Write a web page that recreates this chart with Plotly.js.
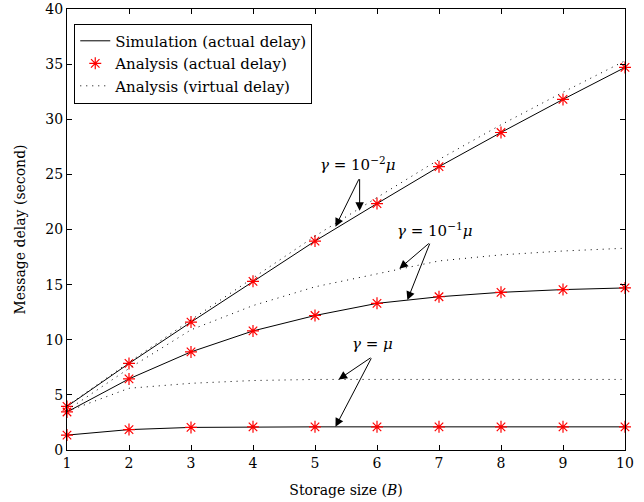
<!DOCTYPE html>
<html>
<head>
<meta charset="utf-8">
<script src="https://cdn.plot.ly/plotly-3.0.1.min.js"></script>
<style>html,body{margin:0;padding:0;background:#fff;}#chart{width:644px;height:502px;}</style>
</head>
<body>
<div id="chart"></div>
<script>
// Storage size B
const storage = [1, 2, 3, 4, 5, 6, 7, 8, 9, 10];

// gamma = 1e-2 mu
const simG2 = [3.95, 7.85, 11.6, 15.3, 18.95, 22.35, 25.7, 28.8, 31.8, 34.7];
const anaActG2 = [3.95, 7.85, 11.6, 15.3, 18.95, 22.35, 25.7, 28.8, 31.8, 34.7];
const anaVirG2 = [4.0, 7.95, 11.8, 15.6, 19.4, 22.9, 26.35, 29.5, 32.45, 35.3];

// gamma = 1e-1 mu
const simG1 = [3.45, 6.45, 8.9, 10.8, 12.2, 13.3, 13.9, 14.3, 14.55, 14.7];
const anaActG1 = [3.45, 6.45, 8.9, 10.8, 12.2, 13.3, 13.9, 14.3, 14.55, 14.7];
const anaVirG1 = [3.6, 7.4, 10.9, 13.1, 14.8, 16.0, 17.15, 17.7, 18.05, 18.3];

// gamma = mu
const simG0 = [1.35, 1.85, 2.05, 2.1, 2.1, 2.1, 2.1, 2.1, 2.1, 2.1];
const anaActG0 = [1.35, 1.85, 2.05, 2.1, 2.1, 2.1, 2.1, 2.1, 2.1, 2.1];
const anaVirG0 = [3.5, 5.6, 6.05, 6.3, 6.4, 6.4, 6.4, 6.4, 6.4, 6.4];

const legendNames = ['Simulation (actual delay)', 'Analysis (actual delay)', 'Analysis (virtual delay)'];

// annotation labels and arrows (data coordinates)
const labelText = ['<i>γ</i> = 10<sup>−2</sup><i>μ</i>', '<i>γ</i> = 10<sup>−1</sup><i>μ</i>', '<i>γ</i> = <i>μ</i>'];
const labelX = [5.68, 6.93, 5.92];
const labelY = [25.9, 19.95, 9.6];
const tailX = [5.72, 6.86, 5.92];
const tailY = [24.7, 18.85, 8.45];
const headAX = [5.33, 6.36, 5.38];
const headAY = [20.25, 16.45, 6.4];
const headBX = [5.72, 6.49, 5.33];
const headBY = [21.7, 13.6, 2.1];

const FONT = '"DejaVu Serif", "Liberation Serif", serif';

const sims = [simG2, simG1, simG0];
const acts = [anaActG2, anaActG1, anaActG0];
const virs = [anaVirG2, anaVirG1, anaVirG0];

const traces = [];
sims.forEach((s, i) => traces.push({
  x: storage, y: s, mode: 'lines', type: 'scatter',
  line: {color: '#000', width: 1},
  name: legendNames[0], legendgroup: 'sim', showlegend: i === 0
}));
acts.forEach((s, i) => traces.push({
  x: storage, y: s, mode: 'markers', type: 'scatter',
  marker: {symbol: 'asterisk-open', size: 10, color: '#ff0000', line: {color: '#ff0000', width: 1.2}},
  name: legendNames[1], legendgroup: 'act', showlegend: i === 0, cliponaxis: false
}));
virs.forEach((s, i) => traces.push({
  x: storage, y: s, mode: 'lines', type: 'scatter',
  line: {color: '#000', width: 1, dash: '1px,5px'},
  name: legendNames[2], legendgroup: 'vir', showlegend: i === 0
}));

const annotations = [];
for (let i = 0; i < labelText.length; i++) {
  annotations.push({x: labelX[i], y: labelY[i], xref: 'x', yref: 'y', text: labelText[i],
    showarrow: false, font: {family: FONT, size: 15, color: '#000'}});
  [[headAX[i], headAY[i]], [headBX[i], headBY[i]]].forEach(h => {
    annotations.push({x: h[0], y: h[1], xref: 'x', yref: 'y', ax: tailX[i], ay: tailY[i],
      axref: 'x', ayref: 'y', text: '', showarrow: true, arrowhead: 2, arrowsize: 1.7,
      arrowwidth: 1, arrowcolor: '#000'});
  });
}

const axisCommon = {
  showline: true, linecolor: '#000', linewidth: 1, mirror: 'ticks',
  ticks: 'inside', ticklen: 5, tickcolor: '#000', tickwidth: 1,
  showgrid: false, zeroline: false,
  tickfont: {family: FONT, size: 14, color: '#000'}
};

const layout = {
  width: 644, height: 502,
  margin: {l: 67, r: 19, t: 9, b: 52},
  paper_bgcolor: '#fff', plot_bgcolor: '#fff',
  font: {family: FONT, color: '#000'},
  xaxis: Object.assign({}, axisCommon, {range: [1, 10], dtick: 1,
    title: {text: 'Storage size (<i>B</i>)', font: {family: FONT, size: 14, color: '#000'}, standoff: 15}}),
  yaxis: Object.assign({}, axisCommon, {range: [0, 40], dtick: 5,
    title: {text: 'Message delay (second)', font: {family: FONT, size: 14, color: '#000'}, standoff: 16}}),
  legend: {x: 0.013, y: 0.967, xanchor: 'left', yanchor: 'top',
    bordercolor: '#000', borderwidth: 1, bgcolor: '#fff', itemwidth: 30,
    font: {family: FONT, size: 15, color: '#000'}, tracegroupgap: 0},
  annotations: annotations,
  showlegend: true
};

Plotly.newPlot('chart', traces, layout, {staticPlot: true});
</script>
</body>
</html>
